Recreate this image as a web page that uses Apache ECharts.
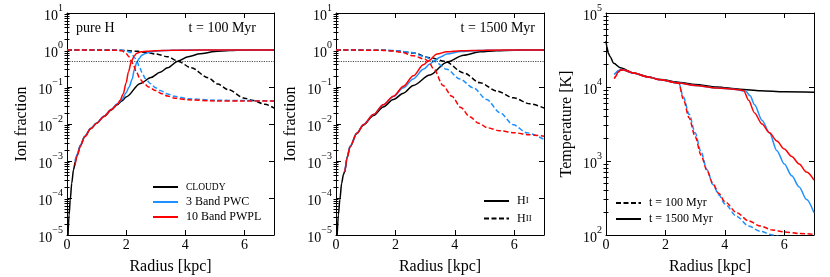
<!DOCTYPE html>
<html>
<head>
<meta charset="utf-8">
<script src="https://cdn.jsdelivr.net/npm/echarts@6/dist/echarts.min.js"></script>
<style>html,body{margin:0;padding:0;background:#fff}#c{width:830px;height:277px}</style>
</head>
<body>
<div id="c"></div>
<script>
// ---------------- data ----------------
const xTicks = [0, 2, 4, 6];
const ionTicks = [1e-5, 1e-4, 1e-3, 1e-2, 1e-1, 1, 10];
const tempTicks = [1e2, 1e3, 1e4, 1e5];
const halfLevel = 0.5;

// Panel 1 (pure H, t = 100 Myr): [radius kpc, ion fraction]
const p1CloudyHI = [[0.035,1e-5],[0.07,3.5e-5],[0.11,8.9e-5],[0.16,2.5e-4],[0.22,5.8e-4],[0.28,9.5e-4],[0.35,1.5e-3],[0.45,2.6e-3],[0.6,4.6e-3],[0.8,7.5e-3],[1.0,1.05e-2],[1.25,1.6e-2],[1.5,2.4e-2],[1.7,3.3e-2],[1.85,4.2e-2],[2.0,5.4e-2],[2.48,0.125],[2.84,0.18],[3.15,0.25],[3.4,0.33],[3.75,0.5],[4.1,0.66],[4.5,0.79],[5.0,0.91],[5.5,0.966],[6.0,0.99],[7.0,1.0]];
const p1BlueHI = [[0.27,1.0e-3],[0.35,1.55e-3],[0.45,2.65e-3],[0.6,4.7e-3],[0.8,7.6e-3],[1.0,1.07e-2],[1.25,1.65e-2],[1.5,2.5e-2],[1.7,3.5e-2],[1.86,4.6e-2],[2.0,7.0e-2],[2.1,0.1],[2.2,0.16],[2.28,0.3],[2.36,0.47],[2.45,0.6],[2.53,0.72],[2.65,0.8],[2.81,0.88],[3.0,0.93],[3.3,0.97],[3.8,0.995],[7.0,1.0]];
const p1RedHI = [[0.27,7.5e-4],[0.35,1.4e-3],[0.45,2.5e-3],[0.6,4.5e-3],[0.8,7.4e-3],[1.0,1.04e-2],[1.25,1.6e-2],[1.5,2.45e-2],[1.7,3.4e-2],[1.8,4.4e-2],[1.9,6.5e-2],[2.0,0.13],[2.08,0.26],[2.18,0.5],[2.28,0.7],[2.36,0.82],[2.5,0.89],[2.7,0.93],[3.0,0.96],[3.5,0.98],[4.5,0.995],[7.0,1.0]];
const p1CloudyHII = [[0,1.0],[1.5,0.995],[2.0,0.97],[2.4,0.92],[2.7,0.85],[3.0,0.78],[3.4,0.66],[3.75,0.5],[4.2,0.33],[4.77,0.178],[5.1,0.12],[5.45,0.085],[6.0,0.05],[6.3,0.043],[6.7,0.034],[7.0,0.027]];
const p1BlueHII = [[0,1.0],[1.8,0.99],[2.0,0.95],[2.16,0.85],[2.3,0.6],[2.36,0.5],[2.45,0.35],[2.53,0.25],[2.65,0.17],[2.81,0.125],[3.0,0.095],[3.15,0.08],[3.4,0.065],[3.64,0.056],[4.1,0.048],[5.0,0.044],[6.0,0.043],[7.0,0.042]];
const p1RedHII = [[0,1.0],[1.6,0.99],[1.86,0.95],[2.0,0.8],[2.08,0.68],[2.18,0.5],[2.25,0.38],[2.35,0.25],[2.48,0.16],[2.6,0.125],[2.76,0.1],[3.0,0.08],[3.2,0.066],[3.4,0.057],[3.64,0.05],[4.1,0.045],[5.0,0.042],[6.0,0.042],[7.0,0.042]];

// Panel 2 (t = 1500 Myr)
const p2CloudyHI = [[0.04,1e-5],[0.08,3.5e-5],[0.13,9e-5],[0.19,2.5e-4],[0.25,4.3e-4],[0.3,5.5e-4],[0.38,1.3e-3],[0.47,2.4e-3],[0.7,5.5e-3],[0.92,9.3e-3],[1.26,1.7e-2],[1.59,2.9e-2],[1.93,4.6e-2],[2.27,6.8e-2],[2.6,0.11],[3.16,0.21],[3.73,0.47],[4.3,0.72],[4.85,0.89],[5.4,0.96],[6.0,0.99],[7.0,1.0]];
const p2BlueHI = [[0.3,5.1e-4],[0.38,1.3e-3],[0.47,2.5e-3],[0.7,5.7e-3],[0.92,9.7e-3],[1.26,1.8e-2],[1.59,3.3e-2],[1.93,5.5e-2],[2.27,9.5e-2],[2.6,0.165],[2.94,0.3],[3.16,0.42],[3.3,0.5],[3.5,0.64],[3.73,0.78],[4.2,0.91],[4.8,0.97],[5.5,0.99],[7.0,1.0]];
const p2RedHI = [[0.3,5.0e-4],[0.38,1.25e-3],[0.47,2.4e-3],[0.7,5.6e-3],[0.92,9.6e-3],[1.26,1.8e-2],[1.59,3.3e-2],[1.93,5.6e-2],[2.27,0.105],[2.6,0.2],[2.94,0.4],[3.1,0.5],[3.4,0.78],[3.73,0.9],[4.2,0.96],[5.0,0.99],[7.0,1.0]];
const p2CloudyHII = [[0,1.0],[1.5,0.99],[2.0,0.96],[2.6,0.83],[3.16,0.62],[3.65,0.5],[4.3,0.24],[4.85,0.13],[5.41,0.078],[5.97,0.051],[6.53,0.035],[7.0,0.027]];
const p2BlueHII = [[0,1.0],[1.6,0.99],[2.0,0.96],[2.5,0.87],[3.0,0.66],[3.3,0.5],[3.73,0.3],[4.17,0.165],[4.62,0.095],[5.07,0.046],[5.52,0.02],[5.97,0.0095],[6.42,0.0058],[7.0,0.0038]];
const p2RedHII = [[0,1.0],[1.4,0.99],[1.8,0.96],[2.2,0.87],[2.6,0.7],[3.0,0.56],[3.1,0.5],[3.3,0.3],[3.6,0.11],[3.9,0.056],[4.2,0.028],[4.5,0.0158],[4.8,0.0105],[5.1,0.0079],[5.5,0.0066],[6.0,0.0058],[6.5,0.0051],[7.0,0.0047]];

// Panel 3: temperature [K]
const p3CloudyT1500 = [[0,42000],[0.03,35000],[0.08,28500],[0.14,25700],[0.26,20900],[0.48,18200],[0.93,15500],[1.4,13800],[1.83,12600],[2.5,11500],[3.0,10800],[3.73,10000],[4.5,9330],[5.2,8910],[6.0,8630],[7.0,8510]];
const p3BlueT1500 = [[0.28,14800],[0.33,15500],[0.4,16500],[0.5,17300],[0.93,15400],[1.4,13700],[1.83,12500],[2.45,11300],[3.0,10500],[3.73,9700],[4.3,9330],[4.7,8800],[4.85,7590],[5.0,5750],[5.25,3550],[5.5,2400],[5.75,1380],[6.0,912],[6.25,631],[6.5,447],[6.75,302],[7.0,200]];
const p3RedT1500 = [[0.28,13000],[0.33,14000],[0.4,15800],[0.5,17000],[0.6,17000],[0.93,15400],[1.4,13700],[1.83,12500],[2.45,11300],[3.0,10500],[3.73,9700],[4.3,9330],[4.63,9000],[4.8,6600],[5.0,4470],[5.25,3160],[5.5,2400],[5.75,1860],[6.0,1450],[6.25,1150],[6.5,912],[6.75,708],[7.0,550]];
const p3BlueT100 = [[0.28,14800],[0.33,15500],[0.4,16500],[0.5,17300],[0.93,15400],[1.4,13700],[1.83,12500],[2.45,11300],[2.6,7410],[2.8,4270],[3.0,2400],[3.2,1320],[3.4,759],[3.6,479],[3.8,347],[4.0,263],[4.4,178],[4.8,132],[5.2,112],[5.6,100],[6.0,91],[7.0,79]];
const p3RedT100 = [[0.28,13000],[0.33,14000],[0.4,15800],[0.5,17000],[0.6,17000],[0.93,15400],[1.4,13700],[1.83,12500],[2.45,11300],[2.6,6920],[2.8,3800],[3.0,2140],[3.2,1200],[3.4,741],[3.6,490],[3.8,363],[4.0,282],[4.4,200],[4.8,155],[5.2,132],[5.6,117],[6.0,110],[6.5,105],[7.0,102]];

// ---------------- styling ----------------
const FONT = 'Liberation Serif';
const BLACK = '#000000', BLUE = '#1e90ff', RED = '#ff0000';
const DASH = [5, 2.5];

function minorTicks(majors) {
  const out = [];
  for (let i = 0; i < majors.length - 1; i++)
    for (let m = 2; m <= 9; m++) out.push(m * majors[i]);
  return out;
}
function powLabel(v) {
  const e = Math.round(Math.log10(v));
  return '{b|10}{s|' + (e < 0 ? '\u2212' + (-e) : e) + '}';
}
const powRich = {
  b: { fontFamily: FONT, fontSize: 14, color: '#000', lineHeight: 20, verticalAlign: 'bottom' },
  s: { fontFamily: FONT, fontSize: 10, color: '#000', lineHeight: 10, verticalAlign: 'top' }
};
const xRich = { x: { fontFamily: FONT, fontSize: 14, color: '#000', lineHeight: 14 } };

const grids = [
  { left: 67, top: 13, width: 207, height: 222 },
  { left: 336, top: 13, width: 208, height: 222 },
  { left: 606, top: 13, width: 208, height: 222 }
];
const panels = [
  { yMin: 1e-5, yMax: 10, majors: ionTicks, name: 'Ion fraction' },
  { yMin: 1e-5, yMax: 10, majors: ionTicks, name: 'Ion fraction' },
  { yMin: 1e2, yMax: 1e5, majors: tempTicks, name: 'Temperature [K]' }
];

const xAxes = [], yAxes = [];
panels.forEach((p, i) => {
  const lineStyle = { color: '#000', width: 1 };
  xAxes.push({
    gridIndex: i, type: 'value', min: 0, max: 7, position: 'bottom',
    axisLine: { show: true, onZero: false, lineStyle },
    axisTick: { show: true, inside: true, length: 5, customValues: xTicks, lineStyle },
    axisLabel: { show: true, customValues: xTicks, margin: 3, formatter: v => '{x|' + v + '}', rich: xRich },
    splitLine: { show: false }
  });
  xAxes.push({
    gridIndex: i, type: 'value', min: 0, max: 7, position: 'top',
    axisLine: { show: true, onZero: false, lineStyle },
    axisTick: { show: true, inside: true, length: 5, customValues: xTicks, lineStyle },
    axisLabel: { show: false }, splitLine: { show: false }
  });
  const base = { gridIndex: i, type: 'log', logBase: 10, min: p.yMin, max: p.yMax, splitLine: { show: false } };
  yAxes.push(Object.assign({}, base, {
    position: 'left',
    axisLine: { show: true, onZero: false, lineStyle },
    axisTick: { show: true, inside: true, length: 5, customValues: p.majors, lineStyle },
    axisLabel: { show: true, customValues: p.majors, margin: 4, formatter: powLabel, rich: powRich }
  }));
  yAxes.push(Object.assign({}, base, {
    position: 'left', axisLine: { show: false },
    axisTick: { show: true, inside: true, length: 2.5, customValues: minorTicks(p.majors), lineStyle },
    axisLabel: { show: false }
  }));
  yAxes.push(Object.assign({}, base, {
    position: 'right', axisLine: { show: true, onZero: false, lineStyle },
    axisTick: { show: true, inside: true, length: 5, customValues: p.majors, lineStyle },
    axisLabel: { show: false }
  }));
  yAxes.push(Object.assign({}, base, {
    position: 'right', axisLine: { show: false },
    axisTick: { show: true, inside: true, length: 2.5, customValues: minorTicks(p.majors), lineStyle },
    axisLabel: { show: false }
  }));
});

function line(name, panel, data, color, dashed, z, extra) {
  return Object.assign({
    name, type: 'line', xAxisIndex: panel * 2, yAxisIndex: panel * 4, data,
    symbol: 'none', showSymbol: false, smooth: 0.3, smoothMonotone: 'x', clip: true,
    lineStyle: { color, width: 1.5, type: dashed ? DASH : 'solid' },
    itemStyle: { color }, z, animation: false, silent: true
  }, extra || {});
}
const halfMark = {
  markLine: {
    silent: true, symbol: ['none', 'none'], label: { show: false },
    lineStyle: { color: '#000', width: 0.7, type: [1.2, 1.2] },
    data: [{ yAxis: halfLevel }], animation: false
  }
};

const series = [
  line('CLOUDY', 0, p1CloudyHI, BLACK, false, 3),
  line('p1 cloudy HII', 0, p1CloudyHII, BLACK, true, 3, halfMark),
  line('3 Band PWC', 0, p1BlueHI, BLUE, false, 4),
  line('p1 blue HII', 0, p1BlueHII, BLUE, true, 4),
  line('10 Band PWPL', 0, p1RedHI, RED, false, 5),
  line('p1 red HII', 0, p1RedHII, RED, true, 5),

  line('HI', 1, p2CloudyHI, BLACK, false, 3),
  line('HII', 1, p2CloudyHII, BLACK, true, 3, halfMark),
  line('p2 blue HI', 1, p2BlueHI, BLUE, false, 4),
  line('p2 blue HII', 1, p2BlueHII, BLUE, true, 4),
  line('p2 red HI', 1, p2RedHI, RED, false, 5),
  line('p2 red HII', 1, p2RedHII, RED, true, 5),

  line('t = 1500 Myr', 2, p3CloudyT1500, BLACK, false, 3),
  line('t = 100 Myr', 2, [], BLACK, true, 3),
  line('p3 blue 1500', 2, p3BlueT1500, BLUE, false, 4),
  line('p3 blue 100', 2, p3BlueT100, BLUE, true, 4),
  line('p3 red 1500', 2, p3RedT1500, RED, false, 5),
  line('p3 red 100', 2, p3RedT100, RED, true, 5)
];

const legendBase = {
  orient: 'vertical', itemWidth: 25, itemHeight: 12, padding: 0, selectedMode: false,
  itemStyle: { opacity: 0, borderWidth: 0 },
  textStyle: {
    fontFamily: FONT, fontSize: 12, color: '#000', lineHeight: 12, padding: [0, 0, 0, 3],
    rich: {
      sc: { fontFamily: FONT, fontSize: 9.5, color: '#000' },
      n: { fontFamily: FONT, fontSize: 12, color: '#000' },
      i: { fontFamily: FONT, fontSize: 9, color: '#000' },
      t: { fontFamily: FONT, fontSize: 12, color: '#000' }
    }
  }
};
const legends = [
  Object.assign({}, legendBase, {
    data: ['CLOUDY', '3 Band PWC', '10 Band PWPL'], left: 152, top: 181, itemGap: 3,
    formatter: n => n === 'CLOUDY' ? '{sc|CLOUDY}' : '{t|' + n + '}'
  }),
  Object.assign({}, legendBase, {
    data: ['HI', 'HII'], left: 483, top: 195, itemGap: 5.6,
    formatter: n => '{n|H}{i|' + n.slice(1) + '}'
  }),
  Object.assign({}, legendBase, {
    data: ['t = 100 Myr', 't = 1500 Myr'], left: 615, top: 197, itemGap: 4,
    formatter: n => '{t|' + n + '}'
  })
];

const TXT = (text, pos, size, rot) => Object.assign({
  type: 'text', silent: true, rotation: rot || 0,
  style: { text, font: (size || 14) + 'px "Liberation Serif"', fill: '#000', align: 'center', verticalAlign: 'middle' }
}, pos);
const annot = (text, pos) => Object.assign({
  type: 'text', top: 21, silent: true,
  style: { text, font: '14px "Liberation Serif"', fill: '#000' }
}, pos);

// axis titles drawn as graphic text, centred on each grid
const axisTitles = [];
grids.forEach((g, i) => {
  axisTitles.push(TXT('Radius [kpc]', { x: g.left + g.width / 2, y: 267 }, 16));
  axisTitles.push(TXT(panels[i].name, { x: g.left - (i === 2 ? 39 : 45), y: g.top + g.height / 2 }, 16, Math.PI / 2));
});

const option = {
  backgroundColor: '#ffffff',
  animation: false,
  textStyle: { fontFamily: FONT },
  grid: grids,
  xAxis: xAxes,
  yAxis: yAxes,
  legend: legends,
  series,
  graphic: [
    annot('pure H', { left: 76 }),
    annot('t = 100 Myr', { right: 574 }),
    annot('t = 1500 Myr', { right: 295 })
  ].concat(axisTitles)
};

const chart = echarts.init(document.getElementById('c'), null, { renderer: 'canvas' });
chart.setOption(option);
</script>
</body>
</html>
